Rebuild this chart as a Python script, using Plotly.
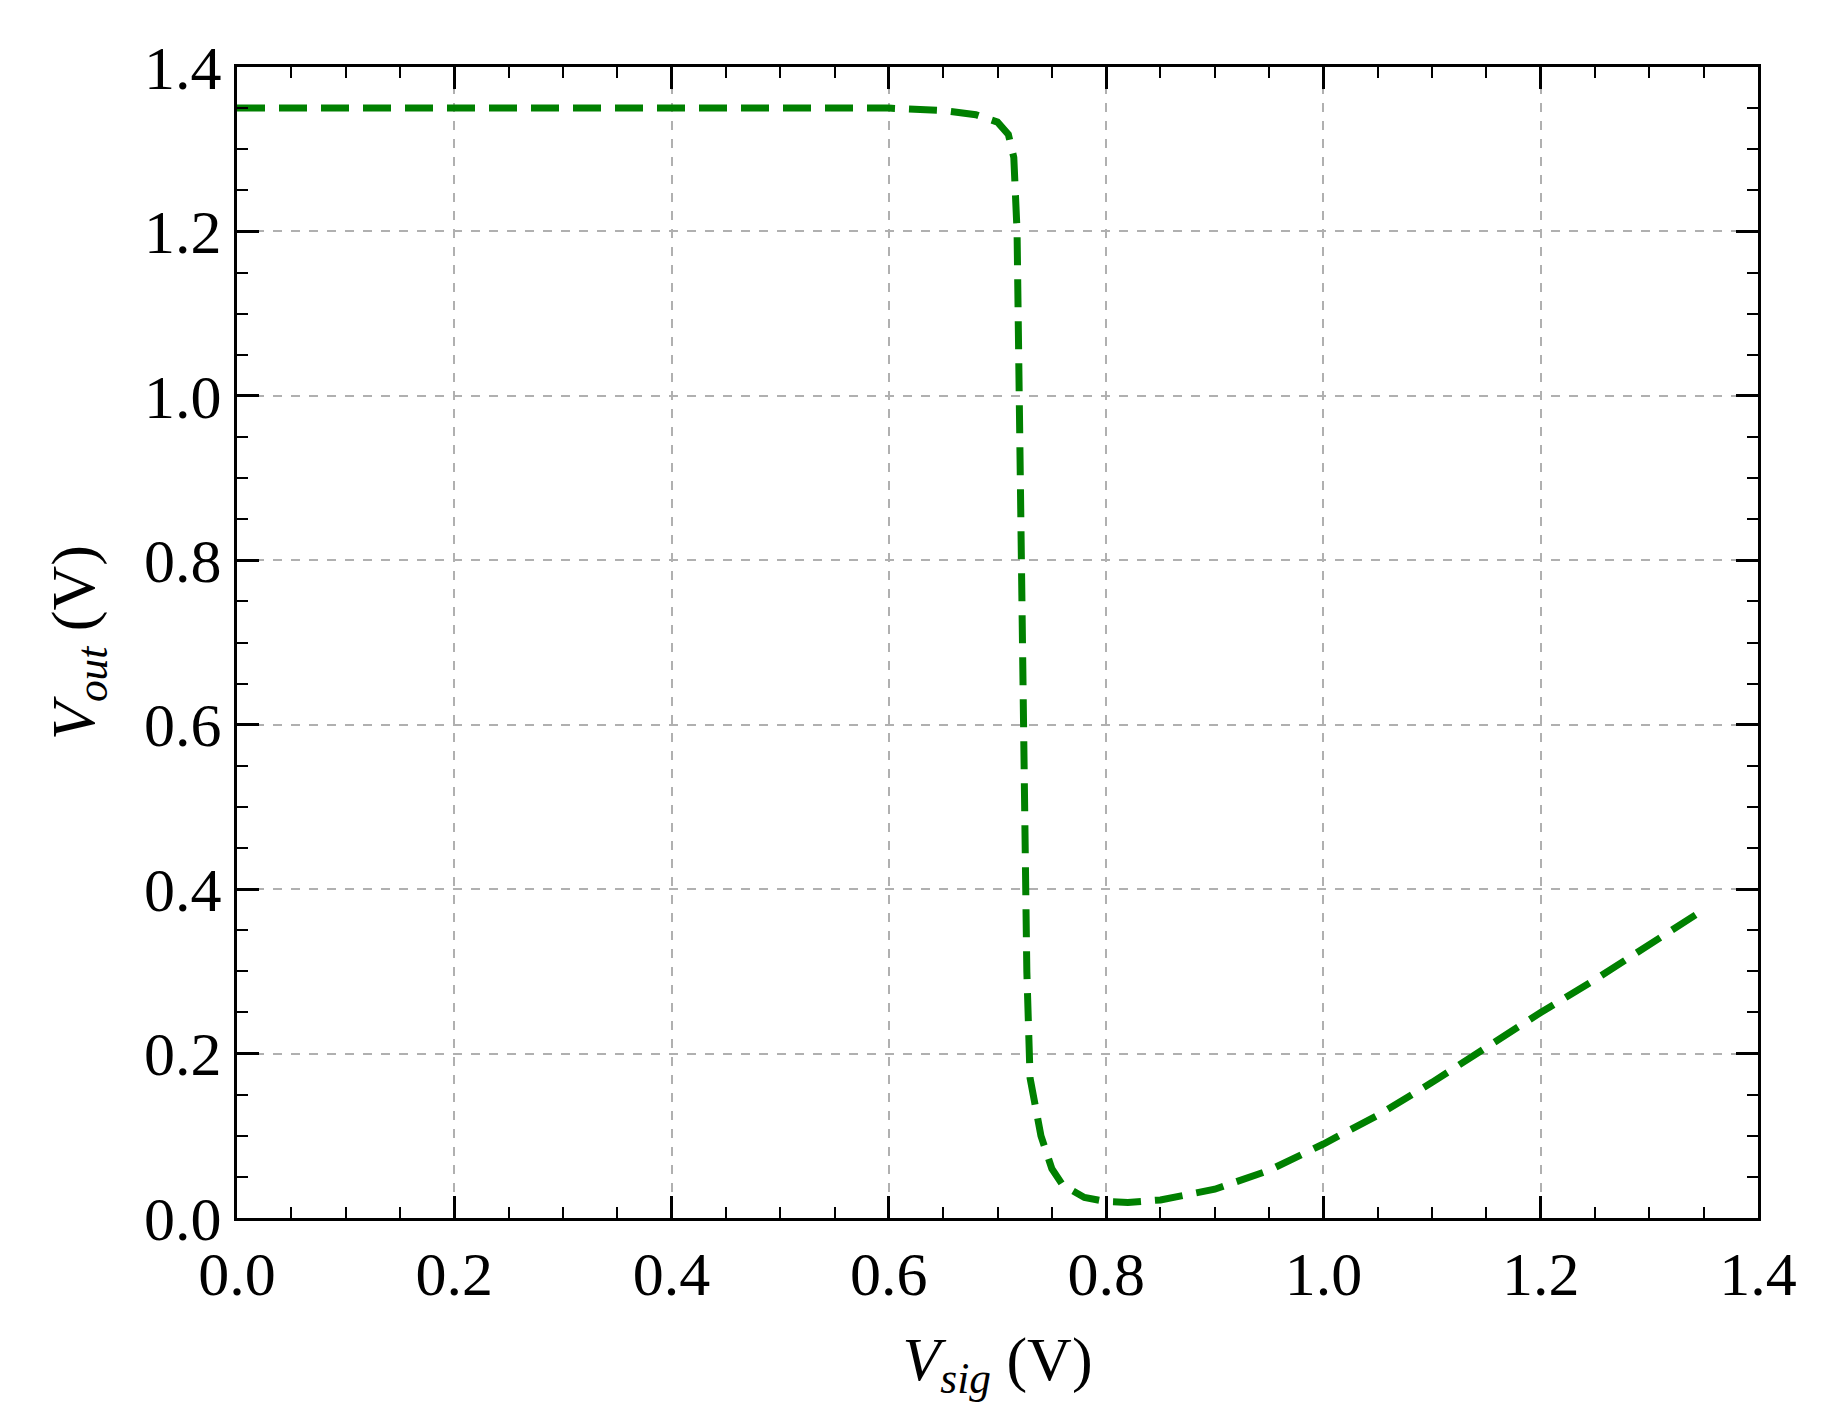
import plotly.graph_objects as go

vsig = [0, 0.3, 0.6, 0.65, 0.68, 0.70, 0.71, 0.715, 0.718, 0.72, 0.722, 0.724, 0.727, 0.73, 0.74, 0.75, 0.76, 0.78,
        0.80, 0.82, 0.85, 0.9, 0.95, 1.0, 1.05, 1.1, 1.15, 1.2, 1.25, 1.3, 1.35]
vout = [1.35, 1.35, 1.35, 1.347, 1.342, 1.333, 1.318, 1.29, 1.2, 1.0, 0.8, 0.5, 0.3, 0.17, 0.1, 0.06, 0.04, 0.025,
        0.02, 0.019, 0.022, 0.035, 0.058, 0.09, 0.125, 0.165, 0.208, 0.25, 0.29, 0.333, 0.375]

F = "Liberation Serif"
fig = go.Figure(go.Scatter(x=vsig, y=vout, mode="lines", line=dict(color="green", width=7, dash="28px,14px")))
ax = dict(showline=True, linecolor="black", linewidth=3, mirror="allticks", ticks="inside", ticklen=22,
          tickwidth=3, tickcolor="black", showgrid=True, gridcolor="#b0b0b0", griddash="dash", gridwidth=2,
          zeroline=False, tickformat=".1f", dtick=0.2, range=[0, 1.4],
          minor=dict(ticks="inside", ticklen=11, tickwidth=2, tickcolor="black", dtick=0.05, showgrid=False),
          tickfont=dict(family=F, size=62, color="black"))
fig.update_xaxes(**ax, title=dict(text="<i>V<sub>sig</sub></i> (V)", font=dict(family=F, size=62, color="black"), standoff=30))
fig.update_yaxes(**ax, title=dict(text="<i>V<sub>out</sub></i> (V)", font=dict(family=F, size=62, color="black"), standoff=30))
fig.update_layout(width=1830, height=1422, plot_bgcolor="white", paper_bgcolor="white", showlegend=False,
                  margin=dict(l=229, r=80, t=59, b=212))
fig.write_html("out.html")
